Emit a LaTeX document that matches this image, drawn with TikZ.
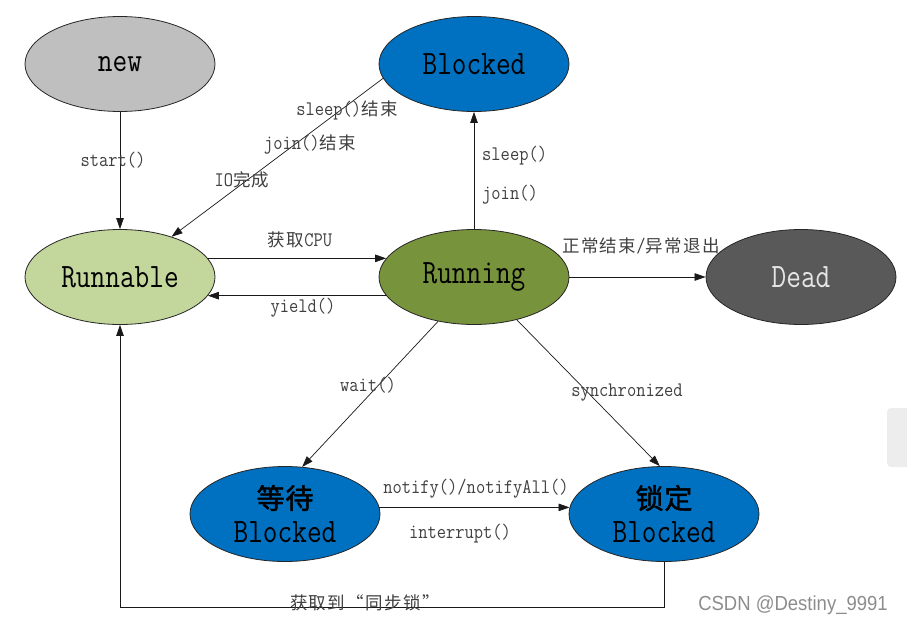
\documentclass[tikz,border=0pt]{standalone}
\usepackage{fontspec}
\usepackage{graphicx}
\setmainfont{Liberation Serif}
\newfontfamily\cjk[LetterSpace=8]{Noto Sans CJK SC}
\newfontfamily\cjkbig[LetterSpace=3,FakeBold=1.5]{Noto Sans CJK SC}
\newfontfamily\wm{Liberation Sans}
\usetikzlibrary{shapes.geometric,arrows.meta}
\definecolor{newgray}{HTML}{BFBFBF}
\definecolor{blkblue}{HTML}{0070C0}
\definecolor{rblgreen}{HTML}{C3D69B}
\definecolor{rungreen}{HTML}{77933C}
\definecolor{deadgray}{HTML}{595959}
\definecolor{labgray}{HTML}{404040}
\newcommand\zh[1]{{\fontsize{17.5}{18}\cjk #1}}
\newcommand\tl[1]{\scalebox{1}[1.15]{#1}}
\newcommand\tn[1]{\scalebox{1}[1.2]{#1}}
\begin{document}
\begin{tikzpicture}[x=1pt,y=-1pt,
  state/.style={ellipse,draw=black!85,line width=0.8pt,minimum width=190pt,minimum height=95pt,
    inner sep=0pt,align=center,font=\fontsize{28.5}{36}\ttfamily\addfontfeature{FakeBold=2.6},text=black},
  lab/.style={font=\fontsize{18}{20}\ttfamily\addfontfeature{FakeBold=0.4},text=labgray,inner sep=0pt},
  arr/.style={-{Triangle[length=11pt,width=7.5pt]},line width=0.7pt,draw=black!90}]
\useasboundingbox (0,0) rectangle (907,626);
% states
\node[state,fill=newgray] (new) at (120,64) {\tn{new}};
\node[state,fill=blkblue] (blk) at (474,64) {\tn{Blocked}};
\node[state,fill=rblgreen] (rbl) at (120,277) {\tn{Runnable}};
\node[state,fill=rungreen] (run) at (474,277) {\tn{Running}};
\node[state,fill=deadgray,text=white!90!black] (dead) at (801,277) {\tn{Dead}};
\node[state,fill=blkblue] (wt) at (285,514) {{\fontsize{28}{36}\cjkbig 等待}\\[-2pt]\tn{Blocked}};
\node[state,fill=blkblue] (lk) at (664,514) {{\fontsize{28}{36}\cjkbig 锁定}\\[-2pt]\tn{Blocked}};
% connectors
\draw[arr] (new.south) -- (rbl.north);
\draw[arr] (blk.189) -- (rbl.38);
\draw[arr] (run.north) -- (blk.south);
\draw[arr] (rbl.12) -- (run.168);
\draw[arr] (run.192) -- (rbl.-12);
\draw[arr] (run.east) -- (dead.west);
\draw[arr] (run.231) -- (wt.70);
\draw[arr] (run.315) -- (lk.95);
\draw[arr] (wt.4) -- (lk.176);
\coordinate (bend) at (664,607);
\draw[arr] (lk.south) -- (bend) -| (rbl.south);
% labels
\node[lab] (l1) at (113,160) {\tl{start()}};
\node[lab] (l2) at (347,110) {\tl{sleep()}\zh{结束}};
\node[lab] (l3) at (310,145) {\tl{join()}\zh{结束}};
\node[lab] (l4) at (242,180) {\tl{IO}\zh{完成}};
\node[lab,anchor=west] (l5) at (482,156) {\tl{sleep()}};
\node[lab,anchor=west] (l6) at (482,195) {\tl{join()}};
\node[lab] (l7) at (300,240) {\zh{获取}\tl{CPU}};
\node[lab] (l8) at (303,308) {\tl{yield()}};
\node[lab] (l9) at (641,246) {\zh{正常结束}\tl{/}\zh{异常退出}};
\node[lab] (l10) at (368,385) {\tl{wait()}};
\node[lab] (l11) at (627,393) {\tl{synchronized}};
\node[lab] (l12) at (476,489) {\tl{notify()/notifyAll()}};
\node[lab] (l13) at (460,534) {\tl{interrupt()}};
\node[lab] (l14) at (365,603) {\zh{获取到“同步锁”}};
% watermark and side tab
\node[font=\fontsize{18.5}{20}\wm,text=black!45,inner sep=0pt] (wmk) at (793,605) {\scalebox{1}[1.1]{CSDN @Destiny\_9991}};
\fill[black!7,rounded corners=4pt] (887,408) rectangle (912,467);
\end{tikzpicture}
\end{document}
